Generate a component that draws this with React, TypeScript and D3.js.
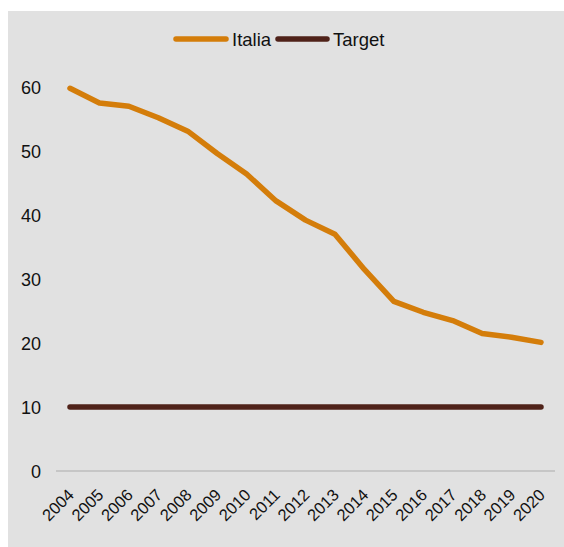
import React from 'react';
import * as d3 from 'd3';

const years = ['2004', '2005', '2006', '2007', '2008', '2009', '2010', '2011', '2012', '2013', '2014', '2015', '2016', '2017', '2018', '2019', '2020'];
const italia = [59.8, 57.5, 57.0, 55.2, 53.1, 49.6, 46.4, 42.2, 39.2, 37.0, 31.5, 26.5, 24.8, 23.5, 21.5, 20.9, 20.1];
const target = years.map(() => 10);
const yTicks = [0, 10, 20, 30, 40, 50, 60];

const W = 564;
const H = 547;

export default function App() {
  const x = d3.scalePoint<string>().domain(years).range([70, 541]);
  const y = d3.scaleLinear().domain([0, 60]).range([471, 87]);

  const line = d3
    .line<number>()
    .x((_, i) => x(years[i]) as number)
    .y((d) => y(d));

  const font = 'Arial, "Liberation Sans", sans-serif';

  return (
    <svg
      width={W}
      height={H}
      style={{ position: 'absolute', left: 0, top: 0 }}
      xmlns="http://www.w3.org/2000/svg"
    >
      <rect x={8} y={11} width={W - 8} height={H - 11} fill="#e1e1e1" />

      {/* legend */}
      <g fontFamily={font} fontSize={18.5} fill="#111">
        <line x1={176} x2={226} y1={39} y2={39} stroke="#d47d0a" strokeWidth={5.5} strokeLinecap="round" />
        <text x={232} y={46}>Italia</text>
        <line x1={278} x2={327} y1={39} y2={39} stroke="#4f2219" strokeWidth={5.5} strokeLinecap="round" />
        <text x={333} y={46}>Target</text>
      </g>

      {/* y axis labels */}
      <g fontFamily={font} fontSize={18} fill="#111" textAnchor="end">
        {yTicks.map((t) => (
          <text key={t} x={41} y={y(t) + 6.5}>
            {t}
          </text>
        ))}
      </g>

      {/* baseline */}
      <line x1={56} x2={555} y1={y(0)} y2={y(0)} stroke="#bdbdbd" strokeWidth={1.5} />

      {/* x labels */}
      <g fontFamily={font} fontSize={16.5} fill="#111" textAnchor="end">
        {years.map((yr) => (
          <text key={yr} transform={`translate(${(x(yr) as number) + 5},${y(0) + 25}) rotate(-45)`}>
            {yr}
          </text>
        ))}
      </g>

      <path d={line(target) ?? ''} fill="none" stroke="#4f2219" strokeWidth={5.5} strokeLinecap="round" />
      <path d={line(italia) ?? ''} fill="none" stroke="#d47d0a" strokeWidth={5.5} strokeLinecap="round" strokeLinejoin="round" />
    </svg>
  );
}
